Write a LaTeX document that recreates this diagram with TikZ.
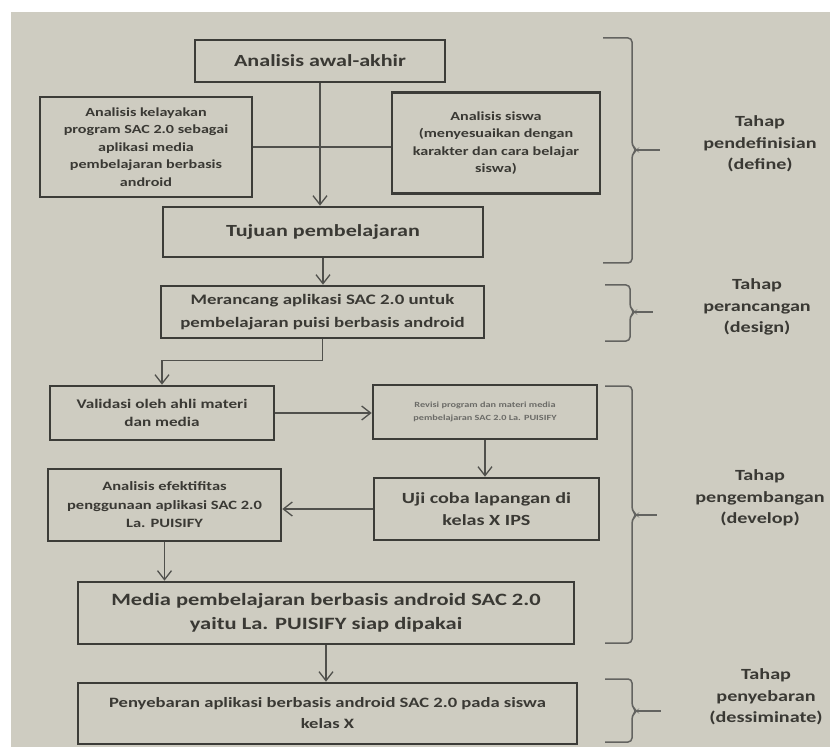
\documentclass[tikz,border=0pt]{standalone}
\usepackage{fontspec}
\setmainfont{Carlito}[FakeStretch=1.3]
\usetikzlibrary{arrows.meta}
\definecolor{paper}{RGB}{206,204,193}
\definecolor{ink}{RGB}{58,57,52}
\definecolor{rule}{RGB}{60,60,56}
\newcommand{\bsz}[2]{\fontsize{#1}{#2}\selectfont\bfseries}

\begin{document}
\begin{tikzpicture}[x=1pt,y=-1pt,
    box/.style={draw=rule,line width=2.6pt,align=center,inner sep=0pt,text=ink},
    link/.style={draw=rule!90,line width=1.3pt},
    arr/.style={link,-{Straight Barb[length=9pt,width=14pt]}},
    brace/.style={draw=rule!80,line width=1.5pt,rounded corners=4pt},
    phase/.style={align=center,text=ink,font=\bsz{15.5}{21.5}}]
                \useasboundingbox[fill=white] (0,0) rectangle (830,751);
                \fill[paper] (11,12) rectangle (830,747);

                \node[box,minimum width=250pt,minimum height=42pt,font=\bsz{17}{23}] (awal) at (320,61) {Analisis awal-akhir};
                \node[box,minimum width=212pt,minimum height=100pt,font=\bsz{12.4}{17.5}] (kelayakan) at (146,147) {Analisis kelayakan\\program SAC 2.0 sebagai\\aplikasi media\\pembelajaran berbasis\\android};
                \node[box,minimum width=208pt,minimum height=101pt,font=\bsz{12.4}{17.5}] (siswa) at (496,143) {Analisis siswa\\(menyesuaikan dengan\\karakter dan cara belajar\\siswa)};
                \node[box,minimum width=320pt,minimum height=50pt,font=\bsz{17}{23}] (tujuan) at (323,232) {Tujuan pembelajaran};
                \node[box,minimum width=323pt,minimum height=52pt,font=\bsz{14.5}{23}] (rancang) at (322.5,312) {Merancang aplikasi SAC 2.0 untuk\\pembelajaran puisi berbasis android};
                \node[box,minimum width=224pt,minimum height=54pt,font=\bsz{13.2}{18}] (validasi) at (162,413) {Validasi oleh ahli materi\\dan media};
                \node[box,minimum width=224pt,minimum height=54pt,font=\bsz{7.9}{13},text=ink!75] (revisi) at (485,412) {Revisi program dan materi media\\pembelajaran SAC 2.0 La. PUISIFY};
                \node[box,minimum width=225pt,minimum height=62pt,font=\bsz{15.5}{22}] (ujicoba) at (486.5,509) {Uji coba lapangan di\\kelas X IPS};
                \node[box,minimum width=233pt,minimum height=72pt,font=\bsz{12.7}{18.5}] (efektif) at (164.5,505) {Analisis efektifitas\\penggunaan aplikasi SAC 2.0\\La. PUISIFY};
                \node[box,minimum width=496pt,minimum height=62pt,font=\bsz{17.3}{24}] (media) at (326,613) {Media pembelajaran berbasis android SAC 2.0\\yaitu La. PUISIFY siap dipakai};
                \node[box,minimum width=499pt,minimum height=61pt,font=\bsz{14.3}{21}] (sebar) at (327.5,713.5) {Penyebaran aplikasi berbasis android SAC 2.0 pada siswa\\kelas X};

                \draw[arr] (awal.south) -- (awal.south |- tujuan.north);
                \draw[link] (kelayakan.east) -- (kelayakan.east -| siswa.west);
                \draw[arr] (tujuan.south) -- (tujuan.south |- rancang.north);
                \draw[arr] (rancang.south) -- ++(0,21) -| (validasi.north);
                \draw[arr] (validasi.east) -- (validasi.east -| revisi.west);
                \draw[arr] (revisi.south) -- (revisi.south |- ujicoba.north);
                \draw[arr] (ujicoba.west) -- (ujicoba.west -| efektif.east);
                \draw[arr] (efektif.south) -- (efektif.south |- media.north);
                \draw[arr] (media.south) -- (media.south |- sebar.north);

                \draw[brace] (603,38) -- (632,38) -- (632,146) -- (637,150) -- (632,154) -- (632,263) -- (603,263);
                \draw[brace] (637,150) -- (660,150);
                \draw[brace] (605,285) -- (630,285) -- (630,308) -- (635,312) -- (630,316) -- (630,341) -- (605,341);
                \draw[brace] (635,312) -- (653,312);
                \draw[brace] (605,386) -- (632,386) -- (632,511) -- (637,515) -- (632,519) -- (632,643) -- (605,643);
                \draw[brace] (637,515) -- (657,515);
                \draw[brace] (605,679) -- (632,679) -- (632,707) -- (637,711) -- (632,715) -- (632,742) -- (605,742);
                \draw[brace] (637,711) -- (661,711);

                \node[phase] (define) at (760,144) {Tahap\\pendefinisian\\(define)};
                \node[phase] (design) at (757,307) {Tahap\\perancangan\\(design)};
                \node[phase] (develop) at (760,498) {Tahap\\pengembangan\\(develop)};
                \node[phase] (dissem) at (766,697) {Tahap\\penyebaran\\(dessiminate)};
\end{tikzpicture}
\end{document}
